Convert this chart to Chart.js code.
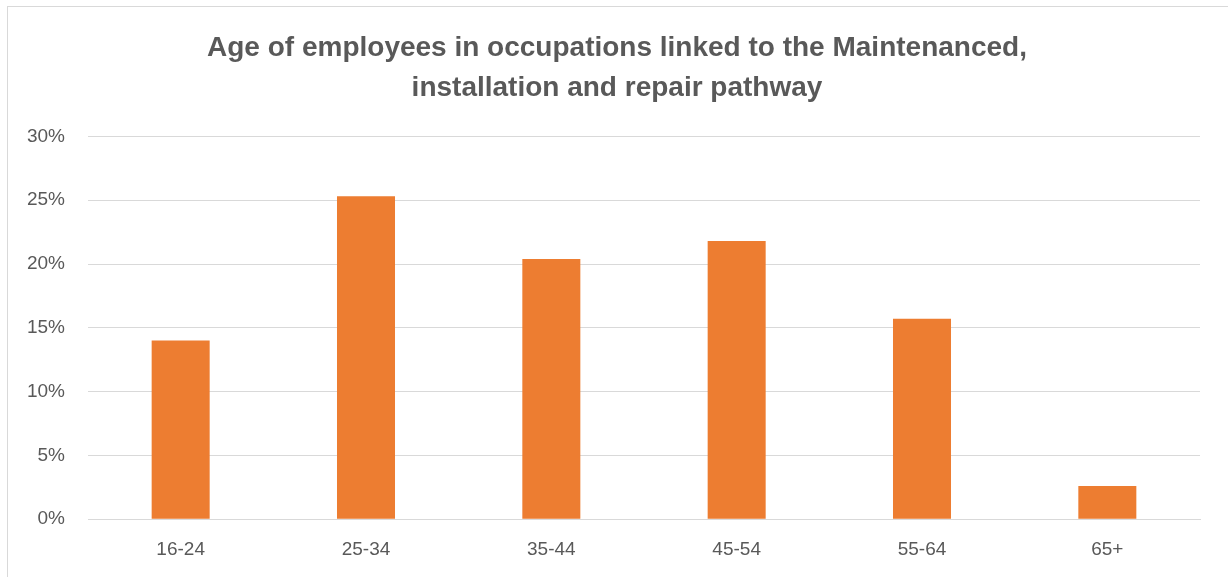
<!DOCTYPE html>
<html>
<head>
<meta charset="utf-8">
<script src="https://cdn.jsdelivr.net/npm/chart.js@4"></script>
<style>
    html, body { margin: 0; padding: 0; background: #fff; }
    #frame {
        position: absolute;
        left: 7px; top: 6px;
        width: 1240px; height: 600px;
        border: 1px solid #d9d9d9;
        box-sizing: border-box;
    }
    #wrap { position: absolute; left: 0; top: 0; width: 1228px; height: 577px; }
</style>
</head>
<body>
<div id="frame"></div>
<div id="wrap"><canvas id="ageChart"></canvas></div>
<script>
/* =========================================================
   DATA
========================================================= */
const ageGroups = ['16-24', '25-34', '35-44', '45-54', '55-64', '65+'];
const sharePct = [14.0, 25.3, 20.4, 21.8, 15.7, 2.6];
const yTicks = [0, 5, 10, 15, 20, 25, 30];

const textGrey = '#595959';
const gridGrey = '#d9d9d9';
const fontFamily = "'Liberation Sans', Arial, sans-serif";

/* =========================================================
   CHART INIT
========================================================= */
new Chart(document.getElementById('ageChart'), {
    type: 'bar',
    data: {
        labels: ageGroups,
        datasets: [{
            data: sharePct,
            backgroundColor: '#ed7d31',
            borderWidth: 0,
            categoryPercentage: 1,
            barPercentage: 0.313
        }]
    },
    options: {
        responsive: true,
        maintainAspectRatio: false,
        animation: false,
        layout: {
            padding: { left: 6, right: 0, top: 15, bottom: 5 }
        },
        plugins: {
            legend: { display: false },
            tooltip: { enabled: false },
            title: {
                display: true,
                text: ['Age of employees in occupations linked to the Maintenanced,',
                       'installation and repair pathway'],
                color: textGrey,
                font: { family: fontFamily, size: 28, weight: 'bold', lineHeight: 1.4 },
                padding: { top: 14, bottom: 29 }
            }
        },
        scales: {
            x: {
                grid: { display: false },
                border: { color: gridGrey, width: 1 },
                ticks: {
                    color: textGrey,
                    font: { family: fontFamily, size: 19 },
                    padding: 11,
                    maxRotation: 0,
                    minRotation: 0
                }
            },
            y: {
                min: 0,
                max: 30,
                afterBuildTicks: axis => {
                    axis.ticks = yTicks.map(v => ({ value: v }));
                },
                afterFit: axis => {
                    axis.width = 82;
                },
                grid: { color: gridGrey, lineWidth: 1, drawTicks: false },
                border: { display: false },
                ticks: {
                    color: textGrey,
                    font: { family: fontFamily, size: 19 },
                    padding: 23,
                    callback: v => v + '%'
                }
            },
            // empty right gutter so the title centres like the original
            gutter: {
                type: 'linear',
                position: 'right',
                grid: { display: false, drawTicks: false },
                border: { display: false },
                ticks: { display: false },
                afterFit: axis => {
                    axis.width = 28;
                }
            }
        }
    }
});
</script>
</body>
</html>
